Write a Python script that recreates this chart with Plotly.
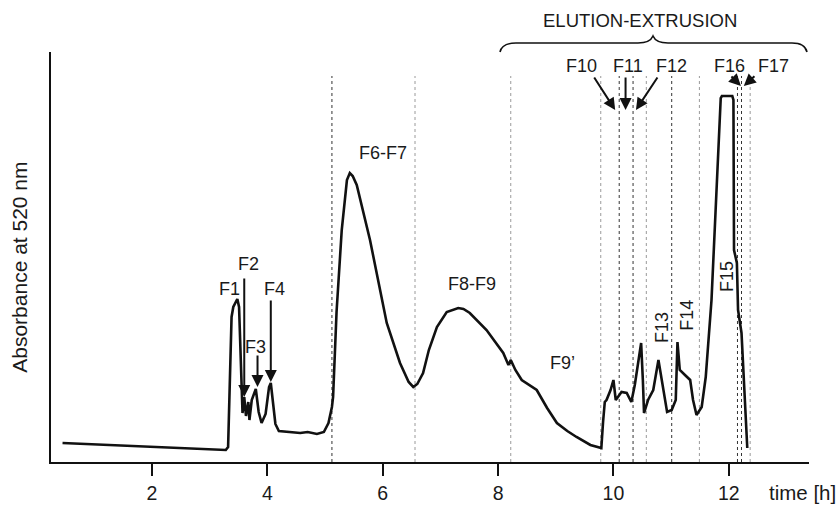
import plotly.graph_objects as go

# ---------------- data ----------------
time_h = [0.45, 3.28, 3.32, 3.35, 3.38, 3.41, 3.48, 3.51, 3.56, 3.57, 3.60, 3.63, 3.67, 3.69,
          3.73, 3.80, 3.85, 3.90, 3.97, 4.03, 4.06, 4.10, 4.14, 4.20, 4.40, 4.57, 4.70, 4.86,
          4.98, 5.06, 5.12, 5.14, 5.20, 5.29, 5.38, 5.43, 5.48, 5.55, 5.78, 6.07, 6.30, 6.45,
          6.53, 6.60, 6.70, 6.80, 6.94, 7.11, 7.31, 7.40, 7.51, 7.80, 8.09, 8.18, 8.22, 8.30,
          8.41, 8.55, 8.67, 8.85, 9.02, 9.20, 9.36, 9.60, 9.77, 9.79, 9.82, 9.85, 9.88, 9.95,
          10.00, 10.04, 10.09, 10.14, 10.23, 10.31, 10.37, 10.43, 10.48, 10.51, 10.53, 10.60,
          10.69, 10.78, 10.86, 10.93, 11.01, 11.08, 11.11, 11.15, 11.24, 11.33, 11.38, 11.44,
          11.53, 11.60, 11.70, 11.78, 11.84, 11.86, 11.88, 12.06, 12.08, 12.08, 12.09, 12.14,
          12.16, 12.22, 12.32]
absorbance = [19, 12, 15, 95, 145, 155, 163, 155, 79, 49, 65, 46, 60, 42,
              62, 73, 50, 39, 48, 75, 79, 60, 38, 31, 30, 29, 30, 28,
              30, 39, 55, 65, 150, 232, 282, 289, 286, 277, 222, 139, 99, 80,
              75, 78, 89, 112, 135, 150, 154, 153, 149, 132, 109, 97, 102, 92,
              82, 77, 72, 54, 39, 31, 25, 17, 14, 14, 40, 60, 62, 72,
              82, 62, 66, 70, 69, 60, 77, 99, 119, 82, 49, 62,
              72, 102, 72, 50, 52, 62, 120, 92, 87, 82, 62, 47,
              55, 85, 162, 262, 350, 364, 366, 366, 362, 262, 212, 199,
              152, 129, 14]

fraction_cuts = [5.12, 6.56, 8.22, 9.78, 10.10, 10.34, 10.57, 11.01, 11.49, 12.15, 12.22, 12.37]
cut_dark = [True, False, False, False, True, True, False, True, False, True, True, False]

x_ticks = [2, 4, 6, 8, 10, 12]

# labels: (text, t, y, rotation)
labels = [("F1", 3.35, 173, 0), ("F2", 3.68, 198, 0), ("F3", 3.80, 115, 0), ("F4", 4.12, 173, 0),
          ("F6-F7", 6.00, 309, 0), ("F8-F9", 7.55, 178, 0), ("F9’", 9.12, 99, 0),
          ("F10", 9.44, 396, 0), ("F11", 10.25, 396, 0), ("F12", 11.00, 396, 0),
          ("F16", 12.02, 396, 0), ("F17", 12.78, 396, 0),
          ("F13", 10.84, 135, -90), ("F14", 11.27, 147, -90), ("F15", 11.97, 185, -90)]

# arrows: (tail t, tail y, tip t, tip y)
arrows = [(3.60, 185, 3.60, 65), (3.83, 108, 3.83, 75), (4.06, 163, 4.06, 80),
          (9.65, 386, 10.03, 352), (10.21, 386, 10.21, 352), (10.78, 386, 10.39, 352),
          (12.02, 387, 12.21, 376), (12.47, 387, 12.26, 376)]

X_RANGE = [0.25, 13.39]
Y_RANGE = [0, 410]
FONT = "Arial, Liberation Sans, sans-serif"
TXT = "#1a1a1a"

fig = go.Figure()
fig.add_trace(go.Scatter(x=time_h, y=absorbance, mode="lines",
                         line=dict(color="#111111", width=2.6), hoverinfo="skip",
                         showlegend=False))

shapes = []
for t, dark in zip(fraction_cuts, cut_dark):
    shapes.append(dict(type="line", xref="x", yref="y", x0=t, x1=t, y0=0, y1=386,
                       line=dict(color="#333333" if dark else "#9a9a9a", width=1, dash="dot"),
                       layer="below"))

# brace over elution-extrusion section (paper coords from layout geometry)
L, T, W, H = 51, 52, 758, 410
def pp(px, py):
    return f"{(px - L) / W:.5f},{(T + H - py) / H:.5f}"

brace = ("M " + pp(500, 52) + " Q " + pp(502, 43) + " " + pp(516, 43) +
         " L " + pp(638, 43) + " Q " + pp(650, 43) + " " + pp(653, 36) +
         " Q " + pp(656, 43) + " " + pp(668, 43) +
         " L " + pp(792, 43) + " Q " + pp(805, 43) + " " + pp(807, 52))
shapes.append(dict(type="path", xref="paper", yref="paper", path=brace,
                   line=dict(color="#111111", width=1.6)))

annotations = []
for text, t, y, rot in labels:
    annotations.append(dict(x=t, y=y, xref="x", yref="y", text=text, showarrow=False,
                            textangle=rot, font=dict(family=FONT, size=18, color=TXT),
                            xanchor="center", yanchor="middle"))
for tx, ty, hx, hy in arrows:
    annotations.append(dict(x=hx, y=hy, ax=tx, ay=ty, xref="x", yref="y", axref="x", ayref="y",
                            text="", showarrow=True, arrowhead=2, arrowsize=1.2, arrowwidth=2,
                            arrowcolor="#111111", standoff=0, startstandoff=0))
annotations.append(dict(x=0.777, y=1.078, xref="paper", yref="paper", text="ELUTION-EXTRUSION",
                        showarrow=False, font=dict(family=FONT, size=18.5, color=TXT),
                        xanchor="center", yanchor="middle"))
annotations.append(dict(x=0.991, y=-0.0756, xref="paper", yref="paper", text="time [h]",
                        showarrow=False, font=dict(family=FONT, size=20.5, color=TXT),
                        xanchor="center", yanchor="middle"))
annotations.append(dict(x=-0.041, y=0.476, xref="paper", yref="paper",
                        text="Absorbance at 520 nm", textangle=-90, showarrow=False,
                        font=dict(family=FONT, size=21, color=TXT),
                        xanchor="center", yanchor="middle"))

fig.update_layout(
    width=839, height=505,
    margin=dict(l=L, r=839 - L - W, t=T, b=505 - T - H, autoexpand=False),
    paper_bgcolor="white", plot_bgcolor="white",
    shapes=shapes, annotations=annotations,
    xaxis=dict(range=X_RANGE, showgrid=False, zeroline=False, showline=True, automargin=False,
               linecolor="#111111", linewidth=2, ticks="outside", ticklen=12, tickwidth=2,
               tickcolor="#111111", tickvals=x_ticks, ticktext=[str(v) for v in x_ticks],
               ticklabelstandoff=1,
               tickfont=dict(family=FONT, size=19.5, color=TXT)),
    yaxis=dict(range=Y_RANGE, showgrid=False, zeroline=False, showline=True, automargin=False,
               linecolor="#111111", linewidth=2, showticklabels=False, ticks=""),
)

fig.write_html("out.html")
